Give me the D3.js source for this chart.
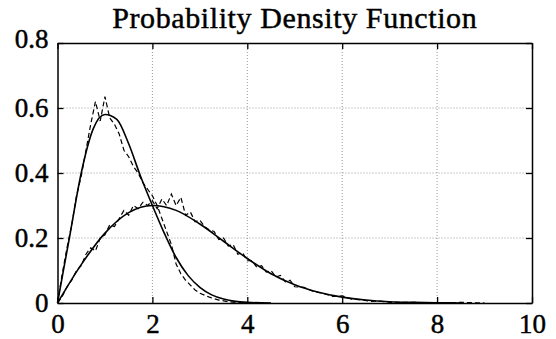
<!DOCTYPE html>
<html>
<head>
<meta charset="utf-8">
<script src="https://cdn.jsdelivr.net/npm/d3@7"></script>
<style>
  body { margin: 0; background: #fff; }
  text { font-family: "Liberation Serif", "Times New Roman", serif; fill: #000; stroke: #000; stroke-width: 0.45px; }
</style>
</head>
<body>
<div id="chart"></div>
<script>
const xTicks = [0, 2, 4, 6, 8, 10];
const yTicks = [0, 0.2, 0.4, 0.6, 0.8];
const titleText = 'Probability Density Function';

// smooth curve 1 (narrow) and 2 (wide)
const fit1X = [0, 0.25, 0.5, 0.75, 1.0, 1.25, 1.5, 1.75, 2.0, 2.25, 2.5, 2.75, 3.0, 3.25, 3.5, 3.75, 4.0, 4.5];
const fit1Y = [0, 0.20, 0.40, 0.535, 0.58, 0.565, 0.49, 0.39, 0.30, 0.215, 0.14, 0.085, 0.048, 0.025, 0.012, 0.005, 0.002, 0];

const fit2X = [0, 0.5, 1.0, 1.5, 2.0, 2.5, 3.0, 3.5, 4.0, 4.5, 5.0, 5.5, 6.0, 6.5, 7.0, 7.5, 8.0, 8.5];
const fit2Y = [0, 0.118, 0.215, 0.278, 0.30, 0.285, 0.243, 0.19, 0.137, 0.09, 0.056, 0.033, 0.018, 0.009, 0.004, 0.002, 0.001, 0];

// noisy estimates (dashed)
const est1X = [0, 0.1, 0.2, 0.3, 0.4, 0.5, 0.6, 0.7, 0.8, 0.9, 1.0, 1.1, 1.2, 1.3, 1.4, 1.5, 1.6, 1.7, 1.8, 1.9,
  2.0, 2.1, 2.2, 2.3, 2.4, 2.5, 2.6, 2.7, 2.8, 2.9, 3.0, 3.2, 3.4, 3.6, 3.8, 4.0];
const est1Y = [0, 0.09, 0.17, 0.24, 0.33, 0.39, 0.47, 0.55, 0.62, 0.56, 0.635, 0.57, 0.55, 0.52, 0.47, 0.45, 0.42, 0.40, 0.37, 0.35,
  0.33, 0.30, 0.26, 0.22, 0.18, 0.12, 0.09, 0.07, 0.055, 0.04, 0.03, 0.018, 0.009, 0.004, 0.001, 0];

const est2X = [0, 0.1, 0.2, 0.3, 0.4, 0.5, 0.6, 0.7, 0.8, 0.9, 1.0, 1.1, 1.2, 1.3, 1.4, 1.5, 1.6, 1.7, 1.8, 1.9,
  2.0, 2.1, 2.2, 2.3, 2.4, 2.5, 2.6, 2.7, 2.8, 2.9, 3.0, 3.1, 3.2, 3.3, 3.4, 3.5, 3.6, 3.7, 3.8, 3.9,
  4.0, 4.1, 4.2, 4.3, 4.4, 4.5, 4.6, 4.7, 4.8, 4.9, 5.0, 5.2, 5.4, 5.6, 5.8, 6.0, 6.2, 6.4, 6.6, 6.8,
  7.0, 7.5, 8.0, 8.5, 9.0];
const est2Y = [0, 0.02, 0.05, 0.07, 0.10, 0.115, 0.15, 0.17, 0.16, 0.20, 0.21, 0.24, 0.235, 0.26, 0.285, 0.27, 0.30, 0.29, 0.31, 0.30,
  0.315, 0.29, 0.32, 0.30, 0.335, 0.30, 0.325, 0.27, 0.28, 0.25, 0.255, 0.235, 0.225, 0.22, 0.195, 0.20, 0.175, 0.18, 0.15, 0.155,
  0.13, 0.13, 0.11, 0.115, 0.095, 0.10, 0.08, 0.085, 0.065, 0.07, 0.05, 0.048, 0.035, 0.03, 0.02, 0.022, 0.012, 0.01, 0.005, 0.006,
  0.002, 0.002, 0, 0.002, 0];

const width = 556, height = 339;
const margin = { top: 43, right: 24, bottom: 36, left: 57.5 };
const innerW = width - margin.left - margin.right;
const innerH = height - margin.top - margin.bottom;

const svg = d3.select('#chart').append('svg')
    .attr('width', width)
    .attr('height', height);

const g = svg.append('g')
    .attr('transform', `translate(${margin.left},${margin.top})`);

const x = d3.scaleLinear().domain([0, 10]).range([0, innerW]);
const y = d3.scaleLinear().domain([0, 0.8]).range([innerH, 0]);

// dotted grid
g.append('g')
    .selectAll('line')
    .data(xTicks.slice(1, -1))
    .join('line')
    .attr('x1', d => x(d)).attr('x2', d => x(d))
    .attr('y1', 0).attr('y2', innerH)
    .attr('stroke', '#999')
    .attr('stroke-width', 1)
    .attr('stroke-dasharray', '1,2');

g.append('g')
    .selectAll('line')
    .data(yTicks.slice(1, -1))
    .join('line')
    .attr('x1', 0).attr('x2', innerW)
    .attr('y1', d => y(d)).attr('y2', d => y(d))
    .attr('stroke', '#999')
    .attr('stroke-width', 1)
    .attr('stroke-dasharray', '1,2');

// curves
const line = d3.line()
    .x(d => x(d[0]))
    .y(d => y(d[1]));

const smooth = d3.line()
    .x(d => x(d[0]))
    .y(d => y(d[1]))
    .curve(d3.curveMonotoneX);

[[est1X, est1Y], [est2X, est2Y]].forEach(([xs, ys]) => {
    g.append('path')
        .datum(d3.zip(xs, ys))
        .attr('d', line)
        .attr('fill', 'none')
        .attr('stroke', '#000')
        .attr('stroke-width', 1.2)
        .attr('stroke-dasharray', '5,3');
});

[[fit1X, fit1Y], [fit2X, fit2Y]].forEach(([xs, ys]) => {
    g.append('path')
        .datum(d3.zip(xs, ys))
        .attr('d', smooth)
        .attr('fill', 'none')
        .attr('stroke', '#000')
        .attr('stroke-width', 1.6);
});

// axes with inward ticks
const xAxis = g.append('g')
    .attr('transform', `translate(0,${innerH})`)
    .call(d3.axisBottom(x).tickValues(xTicks).tickFormat(d3.format('d'))
        .tickSizeInner(-6).tickSizeOuter(0).tickPadding(11));

const yAxis = g.append('g')
    .call(d3.axisLeft(y).tickValues(yTicks).tickFormat(d => d === 0 ? '0' : d3.format('.1f')(d))
        .tickSizeInner(-6).tickSizeOuter(0).tickPadding(9));

g.append('g')
    .call(d3.axisTop(x).tickValues(xTicks).tickFormat('').tickSizeInner(-6).tickSizeOuter(0));

g.append('g')
    .attr('transform', `translate(${innerW},0)`)
    .call(d3.axisRight(y).tickValues(yTicks).tickFormat('').tickSizeInner(-6).tickSizeOuter(0));

svg.selectAll('.domain').attr('stroke', '#000').attr('stroke-width', 1.5);
svg.selectAll('.tick line').attr('stroke', '#000').attr('stroke-width', 1.3);

svg.selectAll('.tick text')
    .style('font-family', '"Liberation Serif", serif')
    .style('font-size', '27px')
    .attr('fill', '#000');

// top label sits a little above its tick
yAxis.selectAll('.tick')
    .filter(d => d === 0.8)
    .select('text')
    .attr('dy', '0.15em');

svg.append('text')
    .attr('x', margin.left + innerW / 2)
    .attr('y', 28)
    .attr('text-anchor', 'middle')
    .style('font-size', '30px')
    .style('letter-spacing', '0.6px')
    .text(titleText);
</script>
</body>
</html>
